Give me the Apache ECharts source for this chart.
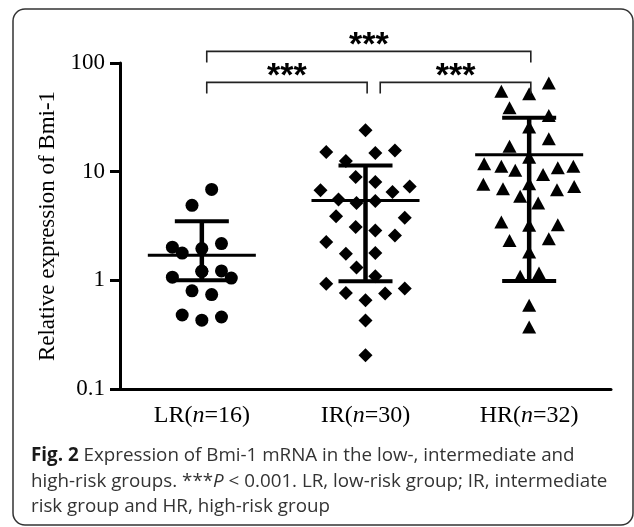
<!DOCTYPE html>
<html>
<head>
<meta charset="utf-8">
<script src="https://cdn.jsdelivr.net/npm/echarts@6/dist/echarts.min.js"></script>
<style>
html,body{margin:0;padding:0;background:#fff;}
#chart{width:634px;height:527px;}
</style>
</head>
<body>
<div id="chart"></div>
<script>
// ---- data ----
const categories = ['LR', 'IR', 'HR'];
const groupSizes = [16, 30, 32];

const lrValues  = [6.87, 4.90, 2.18, 2.02, 1.78, 1.96, 1.21, 1.22, 1.07, 1.05, 0.80, 0.74, 0.48, 0.43, 0.46, 1.21];
const lrOffsets = [0.06, -0.06, 0.12, -0.18, -0.12, 0, 0, 0.12, -0.18, 0.18, -0.06, 0.06, -0.12, 0, 0.12, 0];

const irValues  = [23.99, 15.15, 14.83, 15.70, 12.52, 8.92, 8.02, 7.32, 6.73, 6.49, 5.53, 5.14, 5.36, 3.88, 3.77,
                   3.09, 2.88, 2.59, 2.25, 1.76, 1.78, 1.31, 1.09, 0.93, 0.764, 0.655, 0.755, 0.839, 0.428, 0.204];
const irOffsets = [0, -0.24, 0.06, 0.18, -0.12, -0.06, 0.06, 0.27, -0.275, 0.165, -0.165, -0.055, 0.06, -0.18, 0.24,
                   -0.06, 0.06, 0.18, -0.24, -0.12, 0.06, -0.055, 0.06, -0.24, -0.12, 0, 0.12, 0.24, 0, 0];

const hrValues  = [65.3, 55.1, 52.2, 38.8, 32.9, 25.7, 20.1, 17.1, 13.6, 11.85, 11.19, 10.28, 9.44, 10.88, 11.19, 7.64,
                   6.98, 7.76, 6.83, 7.32, 5.93, 5.14, 3.44, 3.21, 3.25, 2.33, 2.42, 1.82, 1.09, 1.17, 0.589, 0.372];
const hrOffsets = [0.12, -0.17, 0, -0.12, 0.12, 0, 0.12, -0.12, 0, -0.275, -0.17, -0.085, 0.085, 0.175, 0.27, -0.28,
                   -0.16, 0, 0.17, 0.275, -0.055, 0.055, -0.17, 0, 0.175, -0.12, 0.12, 0, -0.055, 0.06, 0, 0];

const meanValues = [1.70, 5.44, 14.3];
const sdLower    = [1.00, 0.98, 0.985];
const sdUpper    = [3.49, 11.4, 31.4];

const yTickLabels = ['0.1', '1', '10', '100'];

// significance brackets: [from category, to category, level (y value)]
const brackets = [[0, 2, 127.8], [0, 1, 66.3], [1, 2, 66.3]];
const bracketLabels = ['***', '***', '***'];

const yAxisTitle = 'Relative expression of Bmi-1';
const captionLines = [
  '{b|Fig. 2} Expression of Bmi-1 mRNA in the low-, intermediate and',
  'high-risk groups. ***{i|P} < 0.001. LR, low-risk group; IR, intermediate',
  'risk group and HR, high-risk group'
];

// ---- chart ----
const chart = echarts.init(document.getElementById('chart'), null, {renderer: 'canvas'});
const serif = '"Liberation Serif", "Times New Roman", serif';
const sans = '"Open Sans", sans-serif';

function pts(values, offsets, idx) {
  return values.map((v, k) => [idx + offsets[k], v]);
}

const option = {
  animation: false,
  backgroundColor: '#fff',
  grid: {left: 120, right: 23, top: 63, bottom: 138, containLabel: false},
  xAxis: [
    {
      type: 'category',
      data: categories,
      boundaryGap: true,
      axisLine: {lineStyle: {color: '#000', width: 3}},
      axisTick: {alignWithLabel: true, length: 9, lineStyle: {color: '#000', width: 3}},
      splitLine: {show: false},
      axisLabel: {
        margin: 15,
        formatter: (v, i) => '{n|' + v + '(}{i|n}{n|=' + groupSizes[i] + ')}',
        rich: {
          n: {fontFamily: serif, fontSize: 24, color: '#000'},
          i: {fontFamily: serif, fontSize: 24, fontStyle: 'italic', color: '#000'}
        }
      }
    },
    {type: 'value', min: -0.5, max: 2.5, show: false}
  ],
  yAxis: {
    type: 'log',
    logBase: 10,
    min: 0.1,
    max: 100,
    axisLine: {show: true, onZero: false, lineStyle: {color: '#000', width: 3}},
    axisTick: {show: true, length: 10, lineStyle: {color: '#000', width: 3}},
    minorTick: {show: false},
    splitLine: {show: false},
    axisLabel: {
      margin: 15,
      fontFamily: serif,
      fontSize: 23,
      color: '#000',
      formatter: (v) => {
        const e = Math.round(Math.log10(v)) + 1;
        return yTickLabels[e] !== undefined ? yTickLabels[e] : String(v);
      }
    },
    name: yAxisTitle,
    nameLocation: 'middle',
    nameGap: 61,
    nameTextStyle: {fontFamily: serif, fontSize: 23, color: '#000'}
  },
  series: [
    {
      type: 'scatter', xAxisIndex: 1, silent: true,
      symbol: 'circle', symbolSize: 13,
      itemStyle: {color: '#000', opacity: 1},
      data: pts(lrValues, lrOffsets, 0)
    },
    {
      type: 'scatter', xAxisIndex: 1, silent: true,
      symbol: 'diamond', symbolSize: 14,
      itemStyle: {color: '#000', opacity: 1},
      data: pts(irValues, irOffsets, 1)
    },
    {
      type: 'scatter', xAxisIndex: 1, silent: true,
      symbol: 'triangle', symbolSize: [14, 13],
      itemStyle: {color: '#000', opacity: 1},
      data: pts(hrValues, hrOffsets, 2)
    },
    {
      type: 'custom', xAxisIndex: 1, silent: true, clip: false, z: 5,
      data: meanValues.map((m, i) => [i, m, sdLower[i], sdUpper[i]]),
      encode: {x: 0, y: 1},
      renderItem: (params, api) => {
        const i = api.value(0);
        const c = api.coord([i, api.value(1)]);
        const lo = api.coord([i, api.value(2)]);
        const hi = api.coord([i, api.value(3)]);
        const hw = api.size([0.33, 0])[0];
        const cw = api.size([0.165, 0])[0];
        const st = (w) => ({stroke: '#000', lineWidth: w});
        return {
          type: 'group',
          children: [
            {type: 'line', shape: {x1: c[0], y1: hi[1], x2: c[0], y2: lo[1]}, style: st(4.5)},
            {type: 'line', shape: {x1: c[0] - cw, y1: hi[1], x2: c[0] + cw, y2: hi[1]}, style: st(4)},
            {type: 'line', shape: {x1: c[0] - cw, y1: lo[1], x2: c[0] + cw, y2: lo[1]}, style: st(4)},
            {type: 'line', shape: {x1: c[0] - hw, y1: c[1], x2: c[0] + hw, y2: c[1]}, style: st(3)}
          ]
        };
      }
    },
    {
      type: 'custom', xAxisIndex: 1, silent: true, clip: false, z: 5,
      data: brackets,
      encode: {x: 0, y: 2},
      renderItem: (params, api) => {
        const from = api.value(0), to = api.value(1), lvl = api.value(2);
        const x1 = api.coord([from + (from === 0 ? 0.03 : 0.09), lvl])[0];
        const x2 = api.coord([to + 0.01, lvl])[0];
        const y = api.coord([from, lvl])[1];
        const tick = 11;
        return {
          type: 'group',
          children: [
            {type: 'polyline', shape: {points: [[x1, y + tick], [x1, y], [x2, y], [x2, y + tick]]},
             style: {stroke: '#222', lineWidth: 1.6, fill: null}},
            {type: 'text', style: {
              text: bracketLabels[params.dataIndex], x: (x1 + x2) / 2, y: y - 6,
              align: 'center', verticalAlign: 'middle',
              fontFamily: '"Liberation Sans", Arial, sans-serif', fontWeight: 'bold', fontSize: 34, fill: '#000'
            }}
          ]
        };
      }
    }
  ],
  graphic: [
    {
      type: 'rect', silent: true, z: 100,
      shape: {x: 13, y: 9, width: 620, height: 516, r: 12},
      style: {fill: 'none', stroke: '#333', lineWidth: 1.5}
    }
  ].concat(captionLines.map((t, k) => ({
    type: 'text', silent: true, z: 100,
    x: 31, y: 456 + k * 25.5,
    style: {
      text: t,
      fontFamily: sans,
      fontSize: 18.8,
      fill: '#333',
      verticalAlign: 'middle',
      rich: {
        b: {fontFamily: sans, fontSize: 18.8, fontWeight: 'bold', fill: '#1a1a1a'},
        i: {fontFamily: sans, fontSize: 18.8, fontStyle: 'italic', fill: '#333'}
      }
    }
  })))
};

chart.setOption(option);
</script>
</body>
</html>
